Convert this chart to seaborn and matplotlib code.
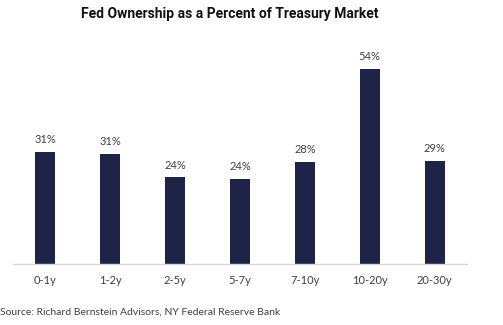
import matplotlib
matplotlib.use("Agg")
import matplotlib.pyplot as plt
import seaborn as sns
import pandas as pd

categories = ["0-1y", "1-2y", "2-5y", "5-7y", "7-10y", "10-20y", "20-30y"]
values = [31.1, 30.5, 24.0, 23.6, 28.3, 54.0, 28.7]
labels = ["31%", "31%", "24%", "24%", "28%", "54%", "29%"]

title = "Fed Ownership as a Percent of Treasury Market"
source = "Source: Richard Bernstein Advisors, NY Federal Reserve Bank"

sns.set_theme(style="white")
plt.rcParams['font.family'] = ['Lato', 'DejaVu Sans']

df = pd.DataFrame({"cat": categories, "val": values})

W, H = 503, 325
fig = plt.figure(figsize=(W / 100, H / 100), dpi=100)
ax = fig.add_axes([13 / W, (H - 264) / H, (467 - 13) / W, (264 - 47.7) / H])

sns.barplot(data=df, x="cat", y="val", color="#1d2448", width=0.31,
            saturation=1, ax=ax, edgecolor="none")

ax.set_xlim(-0.5, 6.5)
ax.set_ylim(0, 60)
ax.set_xlabel("")
ax.set_ylabel("")
ax.set_yticks([])
for s in ["top", "right", "left"]:
    ax.spines[s].set_visible(False)
ax.spines["bottom"].set_color("#d9d9d9")
ax.spines["bottom"].set_linewidth(1.0)
ax.tick_params(axis="x", length=0, pad=8, labelsize=8, labelcolor="#404040")

for i, (v, lab) in enumerate(zip(values, labels)):
    ax.annotate(lab, (i, v), xytext=(0, 5), textcoords="offset points",
                ha="center", va="bottom", fontsize=8, color="#404040")

fig.text(229.5 / W, 1 - 14 / H, title, ha="center", va="center",
         fontsize=10, fontweight="bold", color="#111111",
         family=['Liberation Sans Narrow', 'Roboto', 'DejaVu Sans'])
fig.text(0.0, 1 - 312 / H, source, ha="left", va="center",
         fontsize=7.5, color="#404040")

fig.savefig("out.png", dpi=100)
